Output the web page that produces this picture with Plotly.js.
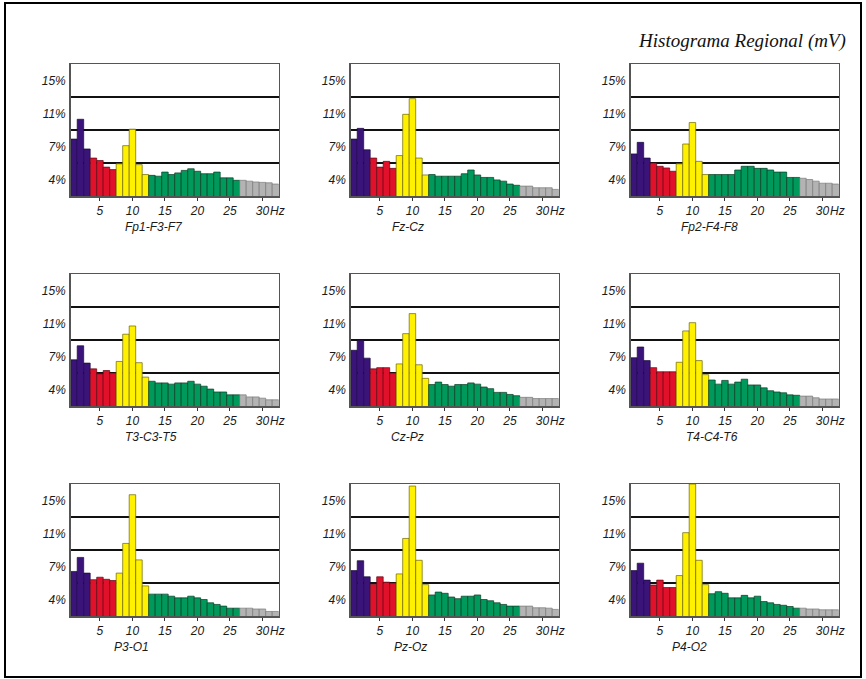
<!DOCTYPE html>
<html>
<head>
<meta charset="utf-8">
<script src="https://cdn.plot.ly/plotly-3.0.1.min.js"></script>
<style>html,body{margin:0;padding:0;background:#fff;}#chart{width:866px;height:679px;}</style>
</head>
<body>
<div id="chart"></div>
<script>
// Frequency bins (Hz)
const freqs = [1,2,3,4,5,6,7,8,9,10,11,12,13,14,15,16,17,18,19,20,21,22,23,24,25,26,27,28,29,30,31,32];

// Channel names
const channels = ['Fp1-F3-F7','Fz-Cz','Fp2-F4-F8','T3-C3-T5','Cz-Pz','T4-C4-T6','P3-O1','Pz-Oz','P4-O2'];

// Bar heights per channel (on the chart's vertical scale)
const fp1F3F7 = [7.9,10.3,6.7,5.6,5.3,4.5,4.2,4.9,7.1,9.1,4.8,3.6,3.5,3.4,3.9,3.6,3.8,4.1,4.3,4.0,3.7,3.7,3.9,3.2,3.2,2.9,2.9,2.8,2.7,2.65,2.6,2.45];
const fzCz    = [7.9,9.2,6.6,5.6,4.5,5.2,4.35,5.9,10.9,12.8,5.6,3.55,3.6,3.4,3.4,3.4,3.4,3.7,4.15,3.55,3.25,3.25,2.95,2.8,2.45,2.3,2.2,2.2,2.0,2.0,2.0,1.8];
const fp2F4F8 = [6.1,7.5,5.6,5.0,4.6,4.4,4.0,4.9,7.3,9.9,5.2,3.6,3.6,3.6,3.6,3.6,4.15,4.6,4.6,4.35,4.35,4.15,3.9,3.9,3.25,3.25,3.15,3.0,2.8,2.55,2.55,2.45];
const t3C3T5  = [6.6,8.3,6.2,5.5,4.9,5.3,5.0,6.4,9.7,10.7,6.25,4.5,4.0,3.8,3.8,3.65,3.8,3.8,4.0,3.65,3.4,3.05,2.7,2.7,2.35,2.35,2.35,2.1,2.1,1.95,1.75,1.75];
const czPz    = [7.75,8.96,6.8,5.5,5.65,5.65,5.0,6.1,9.77,12.2,6.0,4.35,3.6,3.9,3.6,3.4,3.6,3.6,3.8,3.65,3.3,3.1,2.65,2.65,2.4,2.25,2.05,2.05,1.9,1.9,1.9,1.9];
const t4C4T6  = [6.85,8.15,6.5,5.65,5.15,5.15,5.15,6.3,10.1,11.1,6.5,4.8,4.15,3.65,4.1,3.65,3.9,4.25,3.55,3.55,3.2,2.85,2.7,2.6,2.35,2.3,2.2,2.2,2.0,1.85,1.85,1.85];
const p3O1    = [6.4,8.1,6.2,5.4,5.7,5.45,5.3,6.2,9.8,15.7,7.8,4.65,3.65,3.65,3.65,3.4,3.2,3.2,3.4,3.2,3.0,2.6,2.4,2.2,1.95,1.95,1.95,1.95,1.85,1.85,1.55,1.55];
const pzOz    = [6.5,7.7,5.75,4.85,5.75,5.1,5.0,6.1,10.4,16.75,7.75,4.8,3.55,3.9,3.75,3.3,3.1,3.4,3.4,3.55,3.0,2.85,2.6,2.4,2.2,2.2,2.2,2.2,2.0,2.0,1.95,1.8];
const p4O2    = [6.5,7.4,5.35,4.75,5.35,4.45,4.45,5.9,11.1,17.0,7.75,4.8,3.7,3.95,3.75,3.2,3.2,3.5,3.2,3.4,2.75,2.6,2.4,2.3,2.15,1.95,1.95,1.85,1.85,1.75,1.75,1.75];

const series = [fp1F3F7, fzCz, fp2F4F8, t3C3T5, czPz, t4C4T6, p3O1, pzOz, p4O2];

// Axis labels
const xTickVals = [5,10,15,20,25,30];
const xTickText = ['5','10','15','20','25','30'];
const yTickVals = [3,7,11,15];
const yTickText = ['4%','7%','11%','15%'];
const yGridVals = [5,9,13];

// Band colouring (delta, theta, alpha, beta, rest)
const bandSizes  = [3,4,5,14,6];
const bandColors = ['#3a1479','#e1112c','#fff100','#00995c','#b3b3b3'];
const bandEdges  = ['#1a0a3a','#5a0a12','#6a6400','#0a3a22','#7a7a7a'];

const barColors = [], edgeColors = [];
bandSizes.forEach((n, b) => { for (let k = 0; k < n; k++) { barColors.push(bandColors[b]); edgeColors.push(bandEdges[b]); } });

// Layout geometry (pixels)
const W = 866, H = 679;
const colLeft = [70.7, 350.7, 630.7];
const rowTop = [64, 274, 484];
const plotW = 208, plotH = 132;
const labelOffset = [83, 57, 79, 80, 57, 81, 61, 60, 59];
const textFont = {size: 12, style: 'italic', color: '#1a1a1a', family: 'Liberation Sans, Arial, sans-serif'};

const traces = [];
const layout = {
  width: W, height: H,
  margin: {l: 0, r: 0, t: 0, b: 0},
  paper_bgcolor: '#ffffff', plot_bgcolor: '#ffffff',
  showlegend: false,
  bargap: 0,
  font: {family: 'Liberation Sans, Arial, sans-serif', color: '#222'},
  annotations: [],
  shapes: [{type: 'rect', xref: 'paper', yref: 'paper', x0: 5/W, x1: 861/W, y0: 1 - 677/H, y1: 1 - 3/H,
            line: {color: '#000', width: 2}, fillcolor: 'rgba(0,0,0,0)', layer: 'above'}]
};

series.forEach((vals, i) => {
  const r = Math.floor(i / 3), c = i % 3;
  const n = i + 1;
  const xa = 'x' + (n === 1 ? '' : n), ya = 'y' + (n === 1 ? '' : n);
  traces.push({
    type: 'bar', x: freqs, y: vals, xaxis: xa, yaxis: ya,
    marker: {color: barColors, line: {color: edgeColors, width: 0.7}},
    hoverinfo: 'x+y'
  });
  const x0 = colLeft[c] / W, x1 = (colLeft[c] + plotW) / W;
  const y1 = 1 - rowTop[r] / H, y0 = 1 - (rowTop[r] + plotH) / H;
  layout['xaxis' + (n === 1 ? '' : n)] = {
    domain: [x0, x1], anchor: ya, range: [0.5, 32.5], fixedrange: true,
    tickmode: 'array', tickvals: xTickVals, ticktext: xTickText,
    ticks: 'outside', ticklen: 3, tickwidth: 1, tickcolor: '#333',
    ticklabelstandoff: 0,
    tickfont: textFont,
    showgrid: false, zeroline: false,
    showline: true, mirror: true, linecolor: '#555', linewidth: 1.5
  };
  layout['yaxis' + (n === 1 ? '' : n)] = {
    domain: [y0, y1], anchor: xa, range: [1, 17], fixedrange: true,
    tickmode: 'array', tickvals: yTickVals, ticktext: yTickText,
    ticks: '', ticklabelstandoff: 1,
    tickfont: textFont,
    showgrid: false, zeroline: false,
    minor: {tickmode: 'array', tickvals: yGridVals, showgrid: true, gridcolor: '#111', gridwidth: 1.2, ticks: ''},
    showline: true, mirror: true, linecolor: '#555', linewidth: 1.5
  };
  // "Hz" unit label after the last tick
  layout.annotations.push({
    xref: xa, yref: 'paper', x: 32.3, y: 1 - (rowTop[r] + plotH + 15) / H,
    text: 'Hz', showarrow: false, xanchor: 'center', yanchor: 'middle',
    font: textFont
  });
  // Channel label below the panel
  layout.annotations.push({
    xref: 'paper', yref: 'paper', x: (colLeft[c] + labelOffset[i]) / W, y: 1 - (rowTop[r] + plotH + 31) / H,
    text: channels[i], showarrow: false, xanchor: 'center', yanchor: 'middle',
    font: textFont
  });
});

// Chart title
layout.annotations.push({
  xref: 'paper', yref: 'paper', x: 848 / W, y: 1 - 41 / H, xanchor: 'right', yanchor: 'middle',
  text: 'Histograma Regional (mV)', showarrow: false,
  font: {size: 19, style: 'italic', color: '#111', family: 'Liberation Serif, Times New Roman, serif'}
});

Plotly.newPlot('chart', traces, layout, {displayModeBar: false, staticPlot: true});
</script>
</body>
</html>
